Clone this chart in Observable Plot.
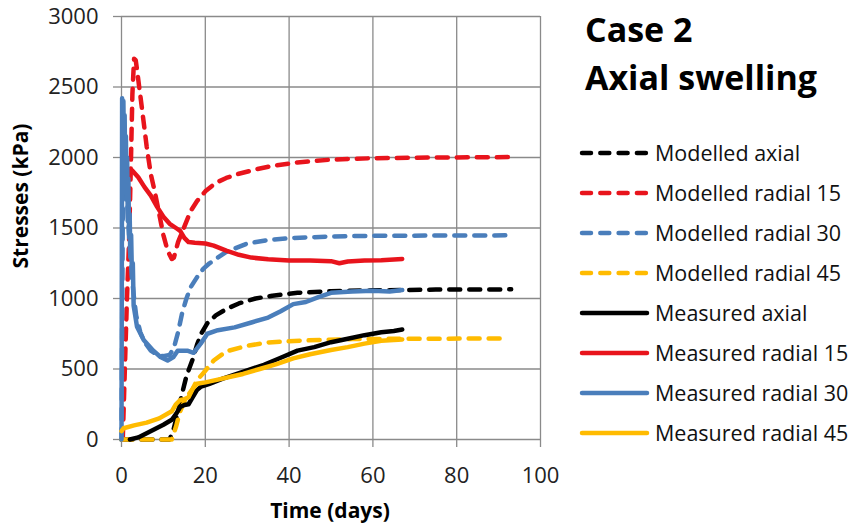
<!DOCTYPE html>
<html>
<head>
<meta charset="utf-8">
<script src="https://cdn.jsdelivr.net/npm/d3@7"></script>
<script src="https://cdn.jsdelivr.net/npm/@observablehq/plot@0.6"></script>
<style>
  html, body { margin: 0; padding: 0; background: #fff; }
  #chart { width: 861px; height: 529px; }
  #chart svg { display: block; }
</style>
</head>
<body>
<div id="chart"></div>
<script>
// Stress histories for Case 2 (axial swelling): [time in days, stress in kPa]
const modelledAxial = [[0,0],[11.5,0],[12.5,80],[13.5,200],[14.5,330],[15.5,450],[17,570],[18,670],[19,750],[20.5,825],[22.5,880],[25,925],[28,965],[32,1000],[36,1020],[42,1040],[50,1052],[60,1058],[75,1063],[93,1065]];
const modelledRadial15 = [[0.3,0],[0.8,500],[1.3,1000],[1.8,1400],[2.2,1900],[2.6,2450],[3.0,2700],[3.4,2690],[3.8,2600],[5,2320],[6,2080],[7,1880],[8,1750],[9,1600],[10,1450],[11,1340],[12,1280],[12.5,1290],[13.5,1400],[15,1510],[16.5,1620],[18,1690],[20,1760],[22.5,1820],[25,1855],[28,1885],[32,1915],[36,1940],[42,1965],[50,1985],[60,1995],[75,2000],[93,2003]];
const modelledRadial30 = [[0,0],[0.4,2100],[1,1900],[1.5,1600],[2,1350],[2.5,1150],[3,1000],[3.5,880],[4.5,760],[5.5,690],[7,630],[8.5,600],[10,590],[11.5,600],[12.5,650],[13.5,760],[14.5,900],[15.5,1000],[16.5,1080],[18,1150],[19.5,1210],[21,1250],[25,1330],[30,1390],[35,1415],[40,1428],[50,1440],[60,1445],[93,1448]];
const modelledRadial45 = [[0,0],[12,0],[13,90],[14,200],[15,270],[16,320],[17,360],[18,420],[19.5,470],[22,560],[25,625],[30,665],[35,688],[43,702],[55,712],[70,715],[91,716]];
const measuredAxial = [[2,0],[4,15],[6,45],[8,75],[10,105],[12,140],[13,180],[14,230],[15,245],[16,250],[17,300],[18,350],[19,375],[21,395],[24,430],[27,460],[30,490],[34,530],[38,580],[42,630],[46,655],[50,690],[54,715],[58,740],[62,760],[65,770],[67,780]];
const measuredRadial15 = [[1.6,1900],[2.5,1910],[4,1860],[5.5,1790],[7,1730],[8.5,1650],[10,1580],[11.5,1530],[13,1500],[14,1480],[15,1430],[16,1400],[17.5,1395],[20,1390],[22,1375],[25,1340],[28,1310],[31,1290],[35,1278],[40,1270],[45,1270],[50,1265],[52,1250],[54,1262],[58,1270],[62,1272],[67,1280]];
const measuredRadial30 = [[0,0],[0.15,2420],[0.3,2150],[0.45,2400],[0.6,2000],[0.75,2300],[0.9,1850],[1.05,2150],[1.2,1700],[1.35,2000],[1.5,1550],[1.65,1850],[1.8,1450],[1.95,1600],[2.1,1300],[2.3,1450],[2.5,1150],[2.7,1250],[2.9,950],[3.7,800],[5.3,705],[7.6,630],[9.3,585],[11,560],[12.4,585],[13.4,630],[15.7,630],[17.2,615],[18.9,680],[20.5,750],[23,775],[27,795],[31,830],[35,865],[38,910],[41,960],[44,975],[47,1010],[50,1040],[55,1050],[60,1055],[64,1050],[67,1060]];
const measuredRadial45 = [[0,60],[0.5,80],[3,100],[6,120],[9,150],[12,200],[13,250],[14,280],[15,285],[16,300],[17,360],[18,395],[20,405],[23,425],[26,445],[29,465],[33,500],[37,535],[41,575],[45,605],[50,635],[54,655],[58,680],[62,700],[65,705],[67,710]];

const seriesNames = ["Modelled axial","Modelled radial 15","Modelled radial 30","Modelled radial 45","Measured axial","Measured radial 15","Measured radial 30","Measured radial 45"];
const seriesColors = ["#000000","#e8141c","#4a7ebb","#ffbb00","#000000","#e8141c","#4a7ebb","#ffbb00"];
const seriesDashed = [true,true,true,true,false,false,false,false];
const seriesValues = [modelledAxial,modelledRadial15,modelledRadial30,modelledRadial45,measuredAxial,measuredRadial15,measuredRadial30,measuredRadial45];

const xTicks = [0,20,40,60,80,100];
const yTicks = [0,500,1000,1500,2000,2500,3000];

const gridColor = "#8a8a8a";
const dash = "11,9";

const lineMarks = seriesNames.map((name, i) =>
  Plot.line(seriesValues[i].map(([t, v]) => ({t, v, name})), {
    x: "t", y: "v",
    stroke: seriesColors[i],
    strokeWidth: 4.5,
    strokeLinecap: "round",
    strokeLinejoin: "round",
    strokeDasharray: seriesDashed[i] ? dash : null
  })
);

const chart = Plot.plot({
  width: 861, height: 529,
  marginLeft: 121, marginRight: 321, marginTop: 16, marginBottom: 90,
  style: {fontFamily: "'Open Sans', sans-serif", fontSize: "22px", color: "#222", background: "#fff"},
  x: {domain: [0, 100]},
  y: {domain: [0, 3000]},
  marks: [
    Plot.gridX(xTicks, {stroke: gridColor, strokeOpacity: 1, strokeWidth: 1.3}),
    Plot.gridY(yTicks, {stroke: gridColor, strokeOpacity: 1, strokeWidth: 1.3}),
    Plot.axisX(xTicks, {tickSize: 8, tickPadding: 20, stroke: gridColor, strokeWidth: 1.3, label: null, fontSize: 22, tickFormat: d => String(d)}),
    Plot.axisY(yTicks, {tickSize: 8, tickPadding: 15, stroke: gridColor, strokeWidth: 1.3, label: null, fontSize: 22, tickFormat: d => String(d)}),
    ...lineMarks
  ]
});
document.getElementById("chart").append(chart);

// Titles, axis titles and legend drawn into the same SVG
const svg = d3.select(chart);
const txt = svg.append("g").attr("font-family", "'Open Sans', sans-serif").attr("fill", "#000").attr("text-anchor", "start");

txt.append("text").attr("x", 28).attr("y", 196)
  .attr("transform", "rotate(-90 28 196)")
  .attr("text-anchor", "middle").attr("font-size", 21).attr("font-weight", "bold")
  .text("Stresses (kPa)");
txt.append("text").attr("x", 330).attr("y", 518)
  .attr("text-anchor", "middle").attr("font-size", 21).attr("font-weight", "bold")
  .text("Time (days)");

txt.append("text").attr("x", 585).attr("y", 42).attr("text-anchor", "start").attr("font-size", 34).attr("font-weight", "bold").text("Case 2");
txt.append("text").attr("x", 585).attr("y", 90).attr("text-anchor", "start").attr("font-size", 34).attr("font-weight", "bold").text("Axial swelling");

const legend = txt.append("g");
seriesNames.forEach((name, i) => {
  const cy = 153 + i * 40;
  legend.append("line")
    .attr("x1", 582).attr("x2", 647).attr("y1", cy).attr("y2", cy)
    .attr("stroke", seriesColors[i]).attr("stroke-width", 4.5)
    .attr("stroke-linecap", "round")
    .attr("stroke-dasharray", seriesDashed[i] ? "9,9.3" : null);
  legend.append("text").attr("x", 655).attr("y", cy + 7.5).attr("text-anchor", "start")
    .attr("font-size", 21.5).attr("fill", "#111").text(name);
});
</script>
</body>
</html>
